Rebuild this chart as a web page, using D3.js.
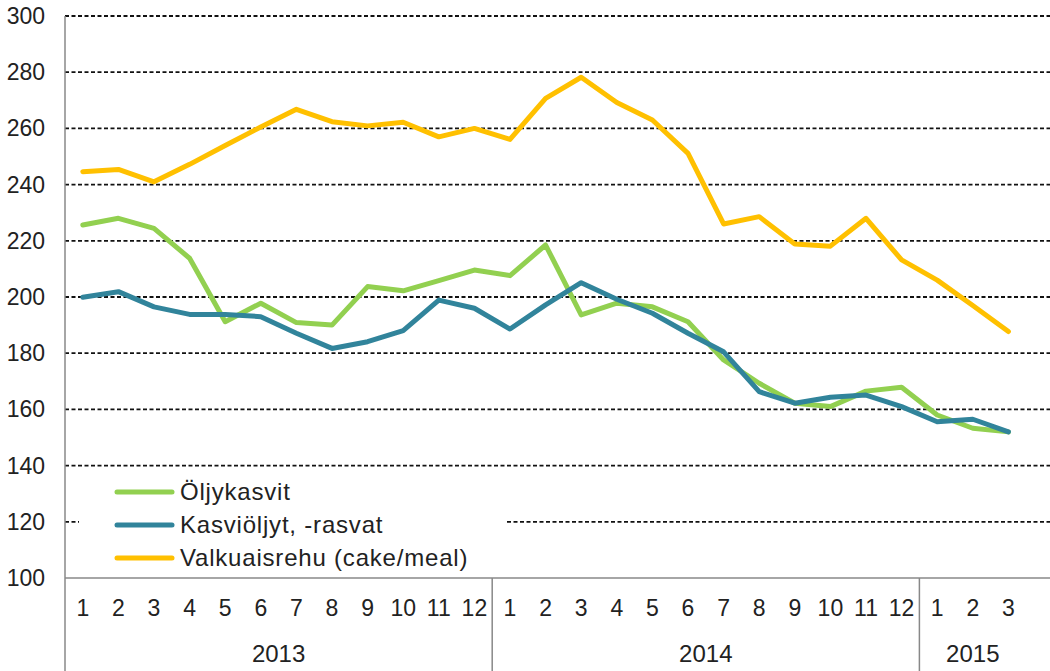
<!DOCTYPE html>
<html>
  <head>
    <meta charset="UTF-8">
    <title>Öljykasvit</title>
    <script src="https://d3js.org/d3.v7.min.js"></script>
    <style>
      body { margin: 0; background: #fff; }
      text { font-family: "Liberation Sans", Arial, sans-serif; fill: #222; }
    </style>
  </head>
  <body>
    <div id="graph"></div>
    <script>

const years = ["2013", "2014", "2015"];
const monthsPerYear = [12, 12, 3];
const yTicks = [100, 120, 140, 160, 180, 200, 220, 240, 260, 280, 300];

const oljykasvit = [225.6, 228, 224.4, 213.8, 191.2, 197.8, 190.9, 190, 203.7, 202.2, 205.8, 209.6,
  207.6, 218.5, 193.6, 197.8, 196.5, 191.2, 177.6, 169.3, 162.2, 161, 166.5, 167.9,
  158, 153.3, 152];
const kasvioljyt = [199.9, 201.9, 196.5, 193.8, 193.8, 193, 187.1, 181.7, 184.1, 188, 198.9, 196,
  188.6, 197.2, 205.1, 199.2, 194.2, 187.1, 180.5, 166.3, 162.2, 164.3, 165.1, 161,
  155.6, 156.5, 152];
const valkuaisrehu = [244.6, 245.4, 241, 247.2, 253.9, 260.5, 266.8, 262.4, 260.9, 262.2, 257, 260,
  256.1, 270.7, 278.2, 269.2, 263, 251.1, 226, 228.6, 218.9, 218.1, 228, 213.2,
  206, 197, 187.7];

const seriesNames = ["Öljykasvit", "Kasviöljyt, -rasvat", "Valkuaisrehu (cake/meal)"];
const seriesColors = ["#92D050", "#31849B", "#FFC000"];
const seriesValues = [oljykasvit, kasvioljyt, valkuaisrehu];

const svgWidth = 1050;
const svgHeight = 671;

const svg = d3.select("#graph")
  .append("svg")
  .attr("width", svgWidth)
  .attr("height", svgHeight);

// category keys, one per month
const keys = [];
years.forEach((y, i) => {
  for (let m = 1; m <= monthsPerYear[i]; m++) keys.push({year: y, month: m, key: y + "-" + m});
});

const xScale = d3.scaleBand()
  .domain(keys.map(d => d.key))
  .range([65, 65 + 35.6 * keys.length]);

const yScale = d3.scaleLinear()
  .domain([100, 300])
  .range([578, 16]);

// grid lines
svg.append("g")
  .selectAll("line")
  .data(yTicks.filter(t => t > 100))
  .enter()
  .append("line")
  .attr("x1", 65)
  .attr("x2", svgWidth)
  .attr("y1", d => yScale(d))
  .attr("y2", d => yScale(d))
  .attr("stroke", "#111")
  .attr("stroke-width", 1.8)
  .attr("stroke-dasharray", "4,2.5");

// y labels
svg.append("g")
  .selectAll("text")
  .data(yTicks)
  .enter()
  .append("text")
  .attr("x", 45)
  .attr("y", d => yScale(d) + 8)
  .attr("text-anchor", "end")
  .style("font-size", "23px")
  .text(d => d);

// axes lines
svg.append("line")
  .attr("x1", 65).attr("x2", 65)
  .attr("y1", 16).attr("y2", svgHeight)
  .attr("stroke", "#888").attr("stroke-width", 1.5);
svg.append("line")
  .attr("x1", 65).attr("x2", svgWidth)
  .attr("y1", yScale(100)).attr("y2", yScale(100))
  .attr("stroke", "#888").attr("stroke-width", 1.5);

// year separators
let start = 0;
const yearBounds = years.map((y, i) => {
  const first = keys[start].key;
  const last = keys[start + monthsPerYear[i] - 1].key;
  start += monthsPerYear[i];
  return {year: y, x0: xScale(first), x1: xScale(last) + xScale.bandwidth()};
});

svg.append("g")
  .selectAll("line")
  .data(yearBounds.slice(1))
  .enter()
  .append("line")
  .attr("x1", d => d.x0).attr("x2", d => d.x0)
  .attr("y1", yScale(100)).attr("y2", svgHeight)
  .attr("stroke", "#888").attr("stroke-width", 1.5);

// month labels
svg.append("g")
  .selectAll("text")
  .data(keys)
  .enter()
  .append("text")
  .attr("x", d => xScale(d.key) + xScale.bandwidth() / 2)
  .attr("y", 616)
  .attr("text-anchor", "middle")
  .style("font-size", "23px")
  .text(d => d.month);

// year labels
svg.append("g")
  .selectAll("text")
  .data(yearBounds)
  .enter()
  .append("text")
  .attr("x", d => (d.x0 + d.x1) / 2)
  .attr("y", 662)
  .attr("text-anchor", "middle")
  .style("font-size", "24px")
  .text(d => d.year);

// lines
const line = d3.line()
  .x((d, i) => xScale(keys[i].key) + xScale.bandwidth() / 2)
  .y(d => yScale(d));

svg.append("g")
  .selectAll("path")
  .data(seriesValues)
  .enter()
  .append("path")
  .attr("d", d => line(d))
  .attr("fill", "none")
  .attr("stroke", (d, i) => seriesColors[i])
  .attr("stroke-width", 5)
  .attr("stroke-linejoin", "round")
  .attr("stroke-linecap", "round");

// legend
const legend = svg.append("g");
legend.append("rect")
  .attr("x", 79).attr("y", 470)
  .attr("width", 428).attr("height", 105)
  .attr("fill", "#fff");

const items = legend.selectAll("g")
  .data(seriesNames)
  .enter()
  .append("g")
  .attr("transform", (d, i) => "translate(0," + (492 + i * 33) + ")");

items.append("line")
  .attr("x1", 117).attr("x2", 172)
  .attr("stroke", (d, i) => seriesColors[i])
  .attr("stroke-width", 5)
  .attr("stroke-linecap", "round");

items.append("text")
  .attr("x", 180)
  .attr("y", 8)
  .style("font-size", "24px")
  .style("letter-spacing", "0.8px")
  .text(d => d);

    </script>
  </body>
</html>
